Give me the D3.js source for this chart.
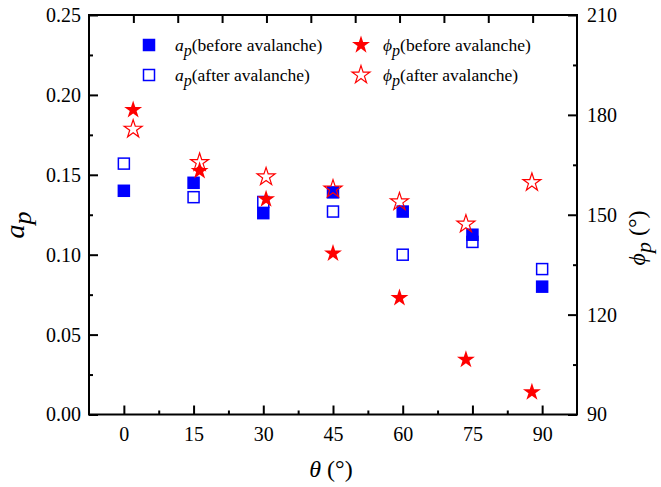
<!DOCTYPE html>
<html>
<head>
<meta charset="utf-8">
<script src="https://cdn.jsdelivr.net/npm/d3@7"></script>
<style>
  body { margin: 0; background: #fff; }
  svg, svg text { font-family: "Liberation Serif", "Times New Roman", serif; }
</style>
</head>
<body>
<svg id="viz" width="661" height="487"></svg>
<script>
// data
const theta = [0, 15, 30, 45, 60, 75, 90];
const apBefore = [0.140, 0.145, 0.126, 0.139, 0.127, 0.1125, 0.080];
const apAfter = [0.157, 0.136, 0.133, 0.127, 0.100, 0.108, 0.091];
// phi markers sit slightly shifted along theta
const phiTheta = [2, 16.3, 30.6, 45, 59.3, 73.6, 87.8];
const phiBefore = [181.5, 163.2, 154.7, 138.4, 125.0, 106.5, 96.7];
const phiAfter = [175.7, 165.7, 161.4, 157.7, 153.9, 147.2, 159.7];

const xTicks = [0, 15, 30, 45, 60, 75, 90];
const yLeftTicks = [0, 0.05, 0.10, 0.15, 0.20, 0.25];
const yRightTicks = [90, 120, 150, 180, 210];

const svg = d3.select("#viz");
const pLeft = 89, pRight = 577, pTop = 15, pBottom = 414.5;
const serif = "'Liberation Serif', 'Times New Roman', serif";

const x = d3.scaleLinear().domain([-7.5, 97.5]).range([pLeft, pRight]);
const yL = d3.scaleLinear().domain([0, 0.25]).range([pBottom, pTop]);
const yR = d3.scaleLinear().domain([90, 210]).range([pBottom, pTop]);
const xTop = d3.scaleLinear().domain([0, 11]).range([pLeft, pRight]);

const blue = "#0000ff", red = "#ff0000";

// axes: ticks pointing inward
const styleAxis = (g) => {
    g.attr("font-family", serif).attr("font-size", 20);
    g.select(".domain").remove();
    g.selectAll("line").attr("stroke", "#000").attr("stroke-width", 2);
    g.selectAll("text").attr("fill", "#000");
};

// bottom
svg.append("g").attr("transform", `translate(0,${pBottom})`)
    .call(d3.axisBottom(x).tickValues(xTicks).tickSizeInner(-9).tickSizeOuter(0).tickPadding(12).tickFormat(d3.format("d")))
    .call(styleAxis);
svg.append("g").attr("transform", `translate(0,${pBottom})`)
    .call(d3.axisBottom(x).tickValues(xTicks.slice(0, -1).map(d => d + 7.5)).tickSize(-4).tickFormat(""))
    .call(styleAxis);

// top
svg.append("g").attr("transform", `translate(0,${pTop})`)
    .call(d3.axisTop(xTop).tickValues(d3.range(1, 11)).tickSize(-8).tickFormat(""))
    .call(styleAxis);

// left
svg.append("g").attr("transform", `translate(${pLeft},0)`)
    .call(d3.axisLeft(yL).tickValues(yLeftTicks).tickSizeInner(-9).tickSizeOuter(0).tickPadding(8).tickFormat(d3.format(".2f")))
    .call(styleAxis);
svg.append("g").attr("transform", `translate(${pLeft},0)`)
    .call(d3.axisLeft(yL).tickValues(yLeftTicks.slice(0, -1).map(d => d + 0.025)).tickSize(-4).tickFormat(""))
    .call(styleAxis);

// right
svg.append("g").attr("transform", `translate(${pRight},0)`)
    .call(d3.axisRight(yR).tickValues(yRightTicks).tickSizeInner(-9).tickSizeOuter(0).tickPadding(10).tickFormat(d3.format("d")))
    .call(styleAxis);
svg.append("g").attr("transform", `translate(${pRight},0)`)
    .call(d3.axisRight(yR).tickValues(yRightTicks.slice(0, -1).map(d => d + 15)).tickSize(-4).tickFormat(""))
    .call(styleAxis);

// frame
svg.append("rect")
    .attr("x", pLeft).attr("y", pTop)
    .attr("width", pRight - pLeft).attr("height", pBottom - pTop)
    .attr("fill", "none").attr("stroke", "#000").attr("stroke-width", 2);

// markers
const sq = 12.5;
const star = d3.symbol().type(d3.symbolStar).size(100);

svg.append("g").selectAll("rect")
    .data(theta.map((t, i) => [t, apAfter[i]]))
    .join("rect")
    .attr("x", d => x(d[0]) - sq / 2 + 0.75).attr("y", d => yL(d[1]) - sq / 2 + 0.75)
    .attr("width", sq - 1.5).attr("height", sq - 1.5)
    .attr("fill", "none").attr("stroke", blue).attr("stroke-width", 1.5);

svg.append("g").selectAll("rect")
    .data(theta.map((t, i) => [t, apBefore[i]]))
    .join("rect")
    .attr("x", d => x(d[0]) - sq / 2).attr("y", d => yL(d[1]) - sq / 2)
    .attr("width", sq).attr("height", sq)
    .attr("fill", blue);

svg.append("g").selectAll("path")
    .data(phiTheta.map((t, i) => [t, phiBefore[i]]))
    .join("path")
    .attr("d", star)
    .attr("transform", d => `translate(${x(d[0])},${yR(d[1])})`)
    .attr("fill", red);

svg.append("g").selectAll("path")
    .data(phiTheta.map((t, i) => [t, phiAfter[i]]))
    .join("path")
    .attr("d", star)
    .attr("transform", d => `translate(${x(d[0])},${yR(d[1])})`)
    .attr("fill", "none").attr("stroke", red).attr("stroke-width", 1.2);

// legend
const legend = svg.append("g").attr("font-size", 17.5).attr("font-family", serif);
const addLabel = (lx, ly, sym, rest) => {
    const t = legend.append("text").attr("x", lx).attr("y", ly + 6);
    t.append("tspan").attr("font-style", "italic").text(sym);
    t.append("tspan").attr("font-style", "italic").attr("dy", 5).attr("font-size", 16).text("p");
    t.append("tspan").attr("dy", -5).text(rest);
};
legend.append("rect").attr("x", 149 - sq / 2).attr("y", 45 - sq / 2).attr("width", sq).attr("height", sq).attr("fill", blue);
legend.append("rect").attr("x", 149 - sq / 2 + 0.75).attr("y", 75 - sq / 2 + 0.75).attr("width", sq - 1.5).attr("height", sq - 1.5)
    .attr("fill", "none").attr("stroke", blue).attr("stroke-width", 1.5);
legend.append("path").attr("d", star).attr("transform", "translate(361,45)").attr("fill", red);
legend.append("path").attr("d", star).attr("transform", "translate(361,75)").attr("fill", "none").attr("stroke", red).attr("stroke-width", 1.2);
addLabel(175, 45, "a", "(before avalanche)");
addLabel(175, 75, "a", "(after avalanche)");
addLabel(383, 45, "\u03d5", "(before avalanche)");
addLabel(383, 75, "\u03d5", "(after avalanche)");

// axis titles
svg.append("text").attr("x", 331).attr("y", 477).attr("text-anchor", "middle").attr("font-size", 24)
    .attr("font-family", serif)
    .call(t => {
        t.append("tspan").attr("font-style", "italic").text("\u03b8");
        t.append("tspan").text(" (\u00b0)");
    });

svg.append("text").attr("transform", "translate(24,225) rotate(-90)").attr("text-anchor", "middle").attr("font-size", 28)
    .attr("font-family", serif)
    .call(t => {
        t.append("tspan").attr("font-style", "italic").text("a");
        t.append("tspan").attr("font-style", "italic").attr("dy", 7).attr("font-size", 26).text("p");
    });

svg.append("text").attr("transform", "translate(645,238) rotate(-90)").attr("text-anchor", "middle").attr("font-size", 24)
    .attr("font-family", serif)
    .call(t => {
        t.append("tspan").attr("font-style", "italic").text("\u03d5");
        t.append("tspan").attr("font-style", "italic").attr("dy", 6).attr("font-size", 22).text("p");
        t.append("tspan").attr("dy", -6).text(" (\u00b0)");
    });
</script>
</body>
</html>
